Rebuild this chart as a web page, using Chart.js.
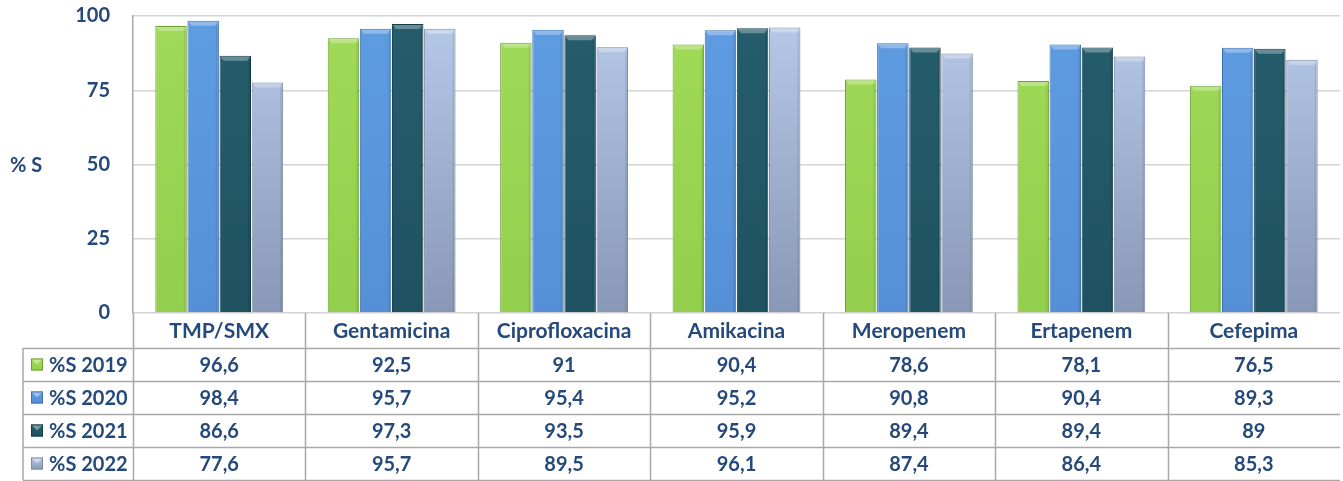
<!DOCTYPE html>
<html>
<head>
<meta charset="utf-8">
<script src="https://cdn.jsdelivr.net/npm/chart.js@4.4.1/dist/chart.umd.min.js"></script>
<style>
  html, body { margin: 0; padding: 0; background: #fff; }
  #wrap { width: 1343px; height: 481px; }
</style>
</head>
<body>
<div id="wrap"><canvas id="chart" width="1343" height="481"></canvas></div>
<script>
const categories = ["TMP/SMX", "Gentamicina", "Ciprofloxacina", "Amikacina", "Meropenem", "Ertapenem", "Cefepima"];
const seriesLabels = ["%S 2019", "%S 2020", "%S 2021", "%S 2022"];
const s2019 = [96.6, 92.5, 91, 90.4, 78.6, 78.1, 76.5];
const s2020 = [98.4, 95.7, 95.4, 95.2, 90.8, 90.4, 89.3];
const s2021 = [86.6, 97.3, 93.5, 95.9, 89.4, 89.4, 89];
const s2022 = [77.6, 95.7, 89.5, 96.1, 87.4, 86.4, 85.3];
const yTicks = [0, 25, 50, 75, 100];
const yTitle = "% S";

const TEXT = "#24497a";
const LINE = "#a8a8a8";
const FONT = "Lato, 'Open Sans', sans-serif";

// top / bottom colour of each series (only 2022 has a visible fade)
const fills = [
  ["#a0da58", "#93cf4c"],
  ["#5e9ce2", "#5590d6"],
  ["#255d6c", "#1f5261"],
  ["#b7c9e9", "#8898b6"]
];
const edges = ["#6f9e35", "#3d70ad", "#143c47", "#7d8aa3"];

const fmt = (v) => String(v).replace(".", ",");

function barFill(i) {
  return (ctx) => {
    const area = ctx.chart.chartArea;
    if (!area) return fills[i][0];
    const g = ctx.chart.ctx.createLinearGradient(0, area.top, 0, area.bottom);
    g.addColorStop(0, fills[i][0]);
    g.addColorStop(1, fills[i][1]);
    return g;
  };
}

const series = [s2019, s2020, s2021, s2022];

// bevel on top of every bar
const bevel = {
  id: "bevel",
  afterDatasetsDraw(chart) {
    const c = chart.ctx;
    chart.data.datasets.forEach((ds, di) => {
      chart.getDatasetMeta(di).data.forEach(bar => {
        const l = bar.x - bar.width / 2, r = bar.x + bar.width / 2;
        c.save();
        c.fillStyle = "rgba(255,255,255,0.3)";
        c.beginPath();
        c.moveTo(l + 1, bar.y + 1);
        c.lineTo(r - 1, bar.y + 1);
        c.lineTo(r - 4, bar.y + 5);
        c.lineTo(l + 4, bar.y + 5);
        c.closePath();
        c.fill();
        c.fillStyle = "rgba(0,0,0,0.08)";
        c.fillRect(r - 3, bar.y + 5, 2, bar.base - bar.y - 5);
        c.restore();
      });
    });
  }
};

// data table under the plot + y title
const table = {
  id: "table",
  afterDraw(chart) {
    const c = chart.ctx;
    const a = chart.chartArea;
    const xs = chart.scales.x;
    const n = categories.length;
    const colW = (a.right - a.left) / n;
    const catH = 35, rowH = 33, legLeft = 23;
    const top = a.bottom, rowsTop = top + catH, bottom = rowsTop + rowH * seriesLabels.length;

    c.save();
    c.strokeStyle = LINE;
    c.lineWidth = 1.5;
    c.beginPath();
    for (let i = 0; i < n; i++) {
      const xl = Math.round(a.left + colW * i) + 0.5;
      c.moveTo(xl, top); c.lineTo(xl, bottom);
    }
    c.moveTo(legLeft, rowsTop); c.lineTo(legLeft, bottom);
    for (let r = 0; r <= seriesLabels.length; r++) {
      const y = Math.round(rowsTop + rowH * r) + 0.5;
      c.moveTo(legLeft, y); c.lineTo(a.right, y);
    }
    c.stroke();

    c.fillStyle = TEXT;
    c.font = "bold 21px " + FONT;
    c.textAlign = "center";
    c.textBaseline = "middle";
    categories.forEach((cat, i) => {
      c.fillText(cat, xs.getPixelForValue(i), top + catH / 2 + 1);
    });
    c.font = "bold 20px " + FONT;
    series.forEach((vals, r) => {
      const cy = rowsTop + rowH * r + rowH / 2 + 1;
      vals.forEach((v, i) => c.fillText(fmt(v), xs.getPixelForValue(i), cy));
    });

    c.textAlign = "left";
    seriesLabels.forEach((lab, r) => {
      const cy = rowsTop + rowH * r + rowH / 2;
      const g = c.createLinearGradient(0, cy - 6, 0, cy + 6);
      g.addColorStop(0, fills[r][0]);
      g.addColorStop(1, fills[r][1]);
      c.fillStyle = g;
      c.fillRect(31, cy - 6, 12, 12);
      c.strokeStyle = edges[r];
      c.lineWidth = 1;
      c.strokeRect(31.5, cy - 5.5, 11, 11);
      c.fillStyle = "rgba(255,255,255,0.4)";
      c.beginPath();
      c.moveTo(32, cy - 5); c.lineTo(42, cy - 5); c.lineTo(37, cy); c.closePath();
      c.fill();
      c.fillStyle = TEXT;
      c.fillText(lab, 49, cy + 1);
    });

    c.font = "bold 20px " + FONT;
    c.fillText(yTitle, 10, chart.scales.y.getPixelForValue(50) + 1);
    c.restore();
  }
};

new Chart(document.getElementById("chart"), {
  type: "bar",
  data: {
    labels: categories,
    datasets: series.map((vals, i) => ({
      label: seriesLabels[i],
      data: vals,
      backgroundColor: barFill(i),
      borderColor: edges[i],
      borderWidth: 1,
      categoryPercentage: 0.745,
      barPercentage: 0.98
    }))
  },
  options: {
    responsive: false,
    animation: false,
    layout: { padding: { top: 16, right: 3, bottom: 168, left: 0 } },
    plugins: { legend: { display: false }, tooltip: { enabled: false } },
    scales: {
      x: { display: false },
      y: {
        min: 0,
        max: 100,
        afterFit: (s) => { s.width = 133; s.paddingTop = 0; s.paddingBottom = 0; },
        afterBuildTicks: (s) => { s.ticks = yTicks.map(v => ({ value: v })); },
        ticks: {
          padding: 23,
          color: TEXT,
          font: { family: FONT, size: 20, weight: "bold" }
        },
        grid: { color: "#d4d4d4", lineWidth: 1.5, drawTicks: false },
        border: { color: LINE, width: 1.5 }
      }
    }
  },
  plugins: [bevel, table]
});
</script>
</body>
</html>
